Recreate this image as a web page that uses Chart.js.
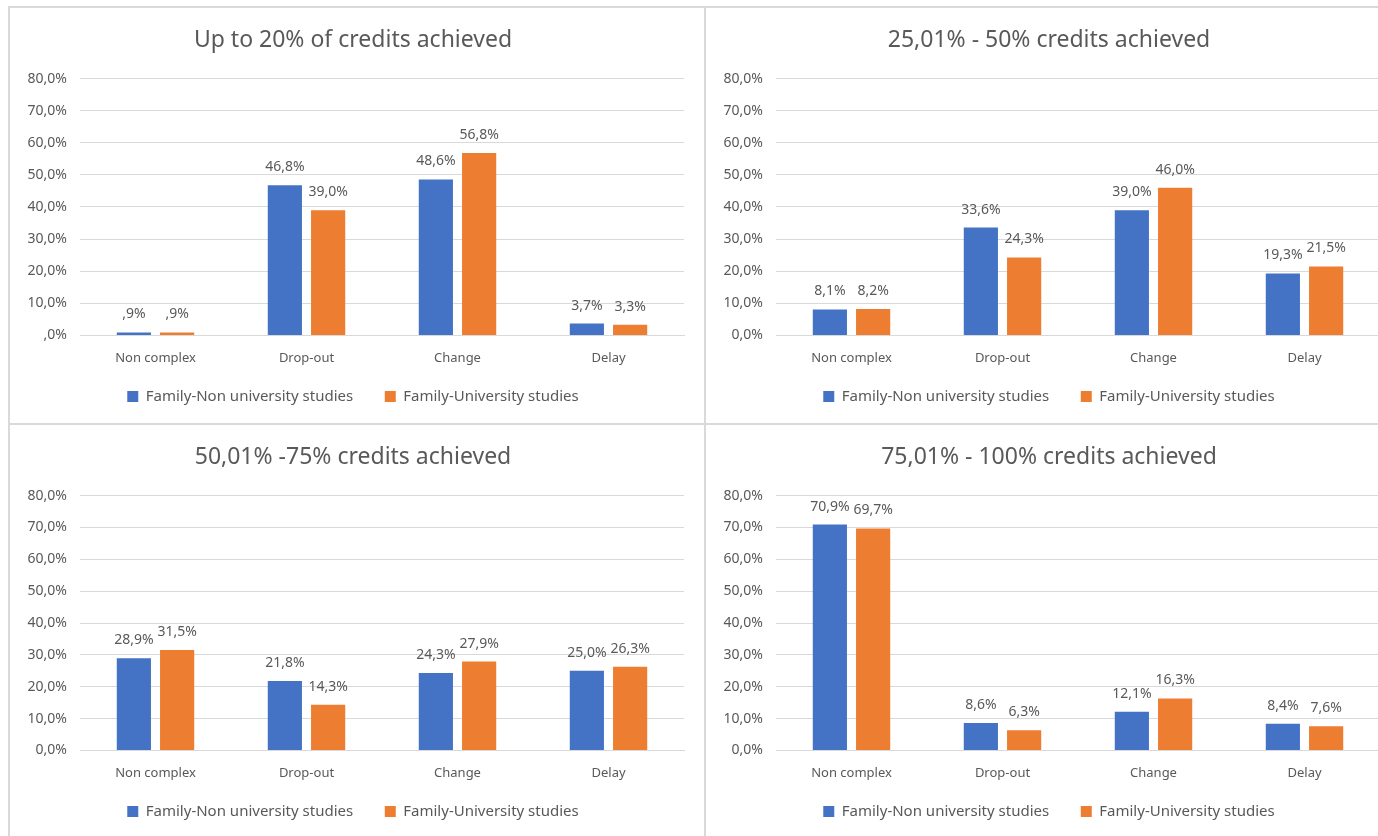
<!DOCTYPE html>
<html>
<head>
<meta charset="utf-8">
<script src="https://cdn.jsdelivr.net/npm/chart.js@4.4.0/dist/chart.umd.min.js"></script>
<style>
  html, body { margin: 0; padding: 0; background: #fff; overflow: hidden; }
  body { width: 1378px; height: 836px; position: relative; }
  .panel { position: absolute; border: 2px solid #d9d9d9; box-sizing: border-box; background: #fff; }
  .panel canvas { position: absolute; left: 0; top: 0; }
</style>
</head>
<body>
<div class="panel" id="p1" style="left:8px;top:6px;width:698px;height:419px;"><canvas id="c1"></canvas></div>
<div class="panel" id="p2" style="left:704px;top:6px;width:700px;height:419px;"><canvas id="c2"></canvas></div>
<div class="panel" id="p3" style="left:8px;top:423px;width:698px;height:420px;"><canvas id="c3"></canvas></div>
<div class="panel" id="p4" style="left:704px;top:423px;width:700px;height:420px;"><canvas id="c4"></canvas></div>

<script>
// Categorías y series
const categories = ["Non complex", "Drop-out", "Change", "Delay"];
const seriesNames = ["Family-Non university studies", "Family-University studies"];
const yTicks = [0, 10, 20, 30, 40, 50, 60, 70, 80];

const titles = [
  "Up to 20% of credits achieved",
  "25,01% - 50% credits achieved",
  "50,01% -75% credits achieved",
  "75,01% - 100% credits achieved"
];

// valores (%)
const p1NonUni = [0.9, 46.8, 48.6, 3.7];
const p1Uni    = [0.9, 39.0, 56.8, 3.3];
const p2NonUni = [8.1, 33.6, 39.0, 19.3];
const p2Uni    = [8.2, 24.3, 46.0, 21.5];
const p3NonUni = [28.9, 21.8, 24.3, 25.0];
const p3Uni    = [31.5, 14.3, 27.9, 26.3];
const p4NonUni = [70.9, 8.6, 12.1, 8.4];
const p4Uni    = [69.7, 6.3, 16.3, 7.6];

// el primer gráfico escribe ",9%" / ",0%" (sin cero inicial)
const dropLeadingZero = [true, false, false, false];

const BLUE = "#4472C4";
const ORANGE = "#ED7D31";
const TEXT = "#595959";
const GRID = "#D9D9D9";
const FONT = "'Noto Sans', 'Open Sans', sans-serif";

function fmt(v, noZero) {
  let s = v.toFixed(1).replace(".", ",");
  if (noZero && s.startsWith("0,")) s = s.slice(1);
  return s + "%";
}

// etiquetas de datos encima de cada barra
const valueLabels = {
  id: "valueLabels",
  afterDatasetsDraw(chart) {
    const ctx = chart.ctx;
    const noZero = chart.options.plugins.valueLabels.noZero;
    ctx.save();
    ctx.font = "14px " + FONT;
    ctx.fillStyle = TEXT;
    ctx.textAlign = "center";
    ctx.textBaseline = "bottom";
    chart.data.datasets.forEach((ds, i) => {
      const meta = chart.getDatasetMeta(i);
      meta.data.forEach((bar, j) => {
        ctx.fillText(fmt(ds.data[j], noZero), bar.x, bar.y - 11);
      });
    });
    ctx.restore();
  }
};

// más separación entre las dos entradas de la leyenda (como en Excel)
function legendLabels(chart) {
  const items = Chart.defaults.plugins.legend.labels.generateLabels(chart);
  items[0].text += "    ";
  return items;
}

function makeChart(id, idx, nonUni, uni, w, h) {
  const canvas = document.getElementById(id);
  canvas.width = w; canvas.height = h;
  canvas.style.width = w + "px"; canvas.style.height = h + "px";
  const noZero = dropLeadingZero[idx];
  return new Chart(canvas.getContext("2d"), {
    type: "bar",
    data: {
      labels: categories,
      datasets: [
        { label: seriesNames[0], data: nonUni, backgroundColor: BLUE,
          categoryPercentage: 0.573, barPercentage: 0.79 },
        { label: seriesNames[1], data: uni, backgroundColor: ORANGE,
          categoryPercentage: 0.573, barPercentage: 0.79 }
      ]
    },
    options: {
      responsive: false,
      animation: false,
      layout: { padding: { left: 12, right: 20, top: 0, bottom: 9 } },
      scales: {
        x: {
          grid: { display: false },
          border: { color: GRID },
          ticks: { color: TEXT, font: { family: FONT, size: 13 }, padding: 7 }
        },
        y: {
          min: 0, max: 80,
          afterBuildTicks(axis) { axis.ticks = yTicks.map(v => ({ value: v })); },
          grid: { color: GRID, drawTicks: false },
          border: { display: false },
          ticks: {
            color: TEXT, font: { family: FONT, size: 14 }, padding: 13,
            callback: v => fmt(v, noZero)
          },
          afterFit(axis) { axis.width = 58; }
        }
      },
      plugins: {
        title: {
          display: true, text: titles[idx], color: TEXT,
          font: { family: FONT, size: 23, weight: "normal" },
          padding: { top: 19, bottom: 24 }
        },
        legend: {
          position: "bottom",
          labels: {
            color: TEXT, font: { family: FONT, size: 15 },
            boxWidth: 11, boxHeight: 11, padding: 16,
            generateLabels: legendLabels
          }
        },
        tooltip: { enabled: false },
        valueLabels: { noZero }
      }
    },
    plugins: [valueLabels]
  });
}

makeChart("c1", 0, p1NonUni, p1Uni, 694, 415);
makeChart("c2", 1, p2NonUni, p2Uni, 694, 415);
makeChart("c3", 2, p3NonUni, p3Uni, 694, 413);
makeChart("c4", 3, p4NonUni, p4Uni, 694, 413);
</script>
</body>
</html>
